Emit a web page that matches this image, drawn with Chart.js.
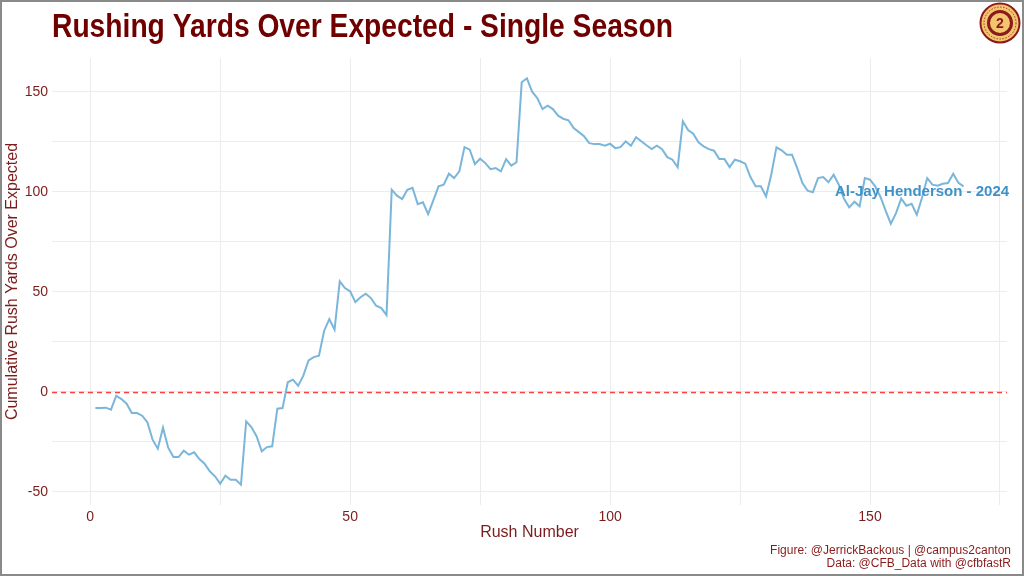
<!DOCTYPE html>
<html>
<head>
<meta charset="utf-8">
<script src="https://cdn.jsdelivr.net/npm/chart.js@4/dist/chart.umd.min.js"></script>
<style>
  html, body { margin: 0; padding: 0; background: #ffffff; }
  #wrap { width: 1024px; height: 576px; }
</style>
</head>
<body>
<div id="wrap"><canvas id="ryoeChart" width="1024" height="576"></canvas></div>
<script>
// Cumulative rushing yards over expected, one value per carry
const ryoeValues = [
  -8.2, -8.2, -8, -9, -2, -3.7, -6, -10.7, -10.7, -12,
  -15.3, -24, -28.5, -18, -28, -32.7, -32.7, -29.5, -31.5, -30.3,
  -33.7, -36, -39.8, -42.3, -46, -42, -44, -44, -46.5, -14.8,
  -17.7, -22.3, -29.8, -27.7, -27.3, -8.5, -8.2, 4.7, 6, 3,
  8, 15.7, 17.3, 18, 30.5, 36.3, 31, 55.2, 51.8, 50.2,
  44.8, 47.2, 49, 46.8, 43, 41.8, 38.3, 101, 98, 96.3,
  101, 102, 93.8, 94.7, 88.8, 95.7, 102.7, 103.5, 109, 106.8,
  110.2, 122.3, 121, 113.8, 116.5, 114.3, 111.3, 111.8, 110.2, 116.3,
  113, 114.7, 154.7, 156.7, 150, 146.8, 141.3, 143, 141.3, 138,
  136.5, 135.7, 131.8, 129.8, 127.7, 124.3, 123.8, 123.8, 123, 124,
  121.8, 122.3, 125.2, 123, 127.2, 125.2, 123.2, 121.3, 123, 121.3,
  117.3, 116, 112.2, 135.2, 130.8, 129, 124.7, 122.7, 121.3, 120.5,
  116.3, 116.3, 112.3, 116, 115.2, 114, 107.3, 102.7, 102.7, 97.7,
  108.5, 122.2, 120.7, 118.5, 118.5, 111.8, 104.3, 100.5, 99.7, 106.8,
  107.3, 104.7, 108.5, 103.5, 96.5, 92.2, 95, 92.7, 106.8, 106,
  102.7, 97.5, 90.5, 84, 89.3, 96.5, 93, 94, 88.5, 97,
  106.8, 103.5, 103, 104, 104.3, 109, 104.5, 102.7
];
const rushNumbers = ryoeValues.map((v, i) => i + 1);

const xTickValues = [0, 50, 100, 150];
const yTickValues = [-50, 0, 50, 100, 150];
const referenceY = 0;

const chartTitle = 'Rushing Yards Over Expected - Single Season';
const xAxisTitle = 'Rush Number';
const yAxisTitle = 'Cumulative Rush Yards Over Expected';
const playerLabel = 'Al-Jay Henderson - 2024';
const playerLabelX = 160;
const playerLabelY = 100;
const captionLines = ['Figure: @JerrickBackous | @campus2canton', 'Data: @CFB_Data with @cfbfastR'];

const darkRed = '#7b1d1d';
const titleRed = '#700000';
const lineBlue = '#7ab6da';
const labelBlue = '#3f92c8';
const gridGrey = '#ececec';

// ggplot-style 5% expansion of the data range
const xMin = 1 - 0.05 * (rushNumbers.length - 1);
const xMax = rushNumbers.length + 0.05 * (rushNumbers.length - 1);
const yLo = Math.min(...ryoeValues), yHi = Math.max(...ryoeValues);
const yMin = yLo - 0.05 * (yHi - yLo);
const yMax = yHi + 0.05 * (yHi - yLo);

// Reference line, label, title, caption, logo and frame
const decorPlugin = {
  id: 'decor',
  beforeDatasetsDraw(chart) {
    const { ctx, chartArea, scales } = chart;
    const y0 = Math.round(scales.y.getPixelForValue(referenceY)) + 0.5;
    ctx.save();
    ctx.strokeStyle = '#ff4040';
    ctx.lineWidth = 1.3;
    ctx.setLineDash([5, 4]);
    ctx.beginPath();
    ctx.moveTo(chartArea.left, y0);
    ctx.lineTo(chartArea.right, y0);
    ctx.stroke();
    ctx.restore();
  },
  afterDraw(chart) {
    const { ctx, scales } = chart;
    ctx.save();

    // player label
    ctx.font = 'bold 15px "Liberation Sans", Arial, sans-serif';
    ctx.fillStyle = labelBlue;
    ctx.textAlign = 'center';
    ctx.textBaseline = 'middle';
    ctx.fillText(playerLabel, scales.x.getPixelForValue(playerLabelX), scales.y.getPixelForValue(playerLabelY));

    // title, condensed to the reference width
    ctx.font = 'bold 33px "Liberation Sans Narrow", "Liberation Sans", Arial, sans-serif';
    ctx.fillStyle = titleRed;
    ctx.textAlign = 'left';
    ctx.textBaseline = 'alphabetic';
    const tw = ctx.measureText(chartTitle).width;
    const targetW = 621;
    ctx.save();
    ctx.translate(52, 37);
    ctx.scale(targetW / tw, 1);
    ctx.fillText(chartTitle, 0, 0);
    ctx.restore();

    // caption
    ctx.font = '12px "Liberation Sans", Arial, sans-serif';
    ctx.fillStyle = '#8b1a1a';
    ctx.textAlign = 'right';
    ctx.textBaseline = 'middle';
    ctx.fillText(captionLines[0], 1011, 551);
    ctx.fillText(captionLines[1], 1011, 564);

    // logo
    const cx = 1000, cy = 23;
    ctx.beginPath();
    ctx.arc(cx, cy, 19.5, 0, Math.PI * 2);
    ctx.fillStyle = '#f3c56f';
    ctx.fill();
    ctx.lineWidth = 2;
    ctx.strokeStyle = '#8b1a1a';
    ctx.stroke();
    ctx.beginPath();
    ctx.arc(cx, cy, 11.5, 0, Math.PI * 2);
    ctx.lineWidth = 3;
    ctx.stroke();
    ctx.beginPath();
    ctx.arc(cx, cy, 16, 0, Math.PI * 2);
    ctx.lineWidth = 0.8;
    ctx.setLineDash([1.5, 1.5]);
    ctx.stroke();
    ctx.setLineDash([]);
    ctx.font = 'bold 14px "Liberation Sans", Arial, sans-serif';
    ctx.fillStyle = '#8b1a1a';
    ctx.textAlign = 'center';
    ctx.textBaseline = 'middle';
    ctx.fillText('2', cx, cy + 1);

    // frame
    ctx.strokeStyle = '#8a8a8a';
    ctx.lineWidth = 2;
    ctx.strokeRect(1, 1, 1022, 574);
    ctx.restore();
  }
};

const ctx = document.getElementById('ryoeChart');
new Chart(ctx, {
  type: 'line',
  data: {
    datasets: [{
      label: 'RYOE',
      data: rushNumbers.map((r, i) => ({ x: r, y: ryoeValues[i] })),
      borderColor: lineBlue,
      borderWidth: 2,
      pointRadius: 0,
      fill: false,
      tension: 0
    }]
  },
  options: {
    responsive: false,
    animation: false,
    devicePixelRatio: 1,
    layout: { padding: { left: 0, top: 58, right: 17, bottom: 0 } },
    plugins: {
      legend: { display: false },
      tooltip: { enabled: false },
      title: { display: false }
    },
    scales: {
      x: {
        type: 'linear',
        min: xMin,
        max: xMax,
        border: { display: false },
        grid: { color: gridGrey, lineWidth: 1, drawTicks: false },
        afterBuildTicks(scale) {
          scale.ticks = [0, 25, 50, 75, 100, 125, 150, 175].map(v => ({ value: v }));
        },
        afterFit(scale) { scale.height = 71; },
        ticks: {
          autoSkip: false,
          maxRotation: 0,
          padding: 4,
          color: darkRed,
          font: { family: '"Liberation Sans", Arial, sans-serif', size: 14 },
          callback: v => xTickValues.includes(v) ? String(v) : ''
        },
        title: {
          display: true,
          text: xAxisTitle,
          color: darkRed,
          font: { family: '"Liberation Sans", Arial, sans-serif', size: 16 },
          padding: { top: 0, bottom: 34 }
        }
      },
      y: {
        type: 'linear',
        min: yMin,
        max: yMax,
        border: { display: false },
        grid: { color: gridGrey, lineWidth: 1, drawTicks: false },
        afterBuildTicks(scale) {
          scale.ticks = [-50, -25, 0, 25, 50, 75, 100, 125, 150].map(v => ({ value: v }));
        },
        afterFit(scale) { scale.width = 52; },
        ticks: {
          autoSkip: false,
          padding: 4,
          color: darkRed,
          font: { family: '"Liberation Sans", Arial, sans-serif', size: 14 },
          callback: v => yTickValues.includes(v) ? String(v) : ''
        },
        title: {
          display: true,
          text: yAxisTitle,
          color: darkRed,
          font: { family: '"Liberation Sans", Arial, sans-serif', size: 16 },
          padding: { top: 3, bottom: 0 }
        }
      }
    }
  },
  plugins: [decorPlugin]
});
</script>
</body>
</html>
